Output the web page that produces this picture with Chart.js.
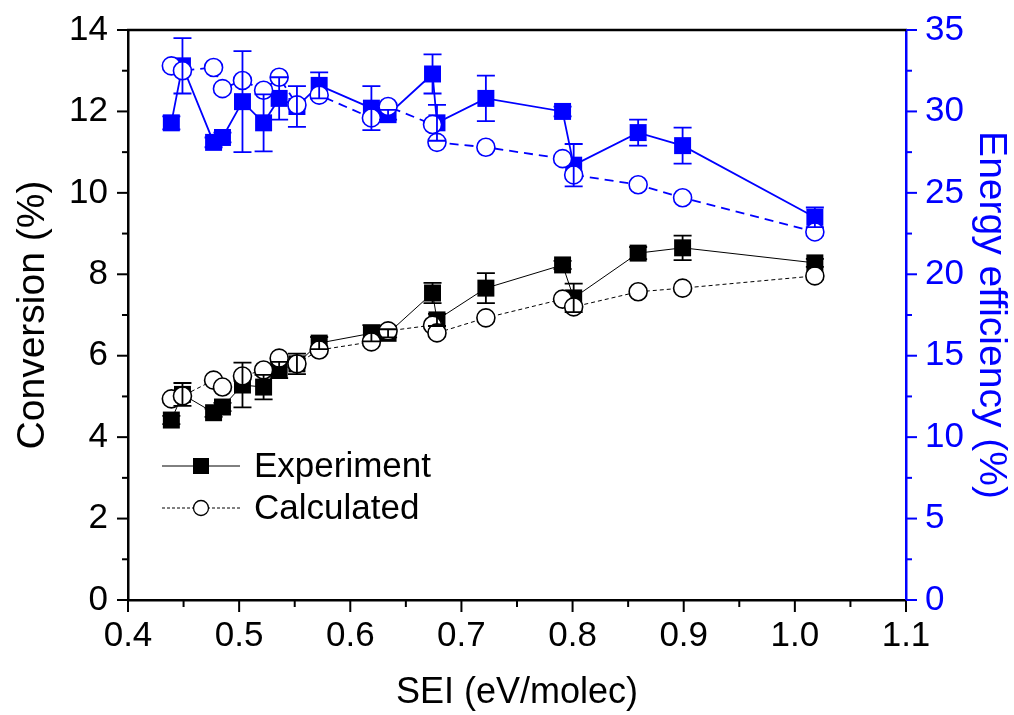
<!DOCTYPE html>
<html><head><meta charset="utf-8">
<script src="https://cdn.jsdelivr.net/npm/chart.js@4/dist/chart.umd.min.js"></script>
<style>html,body{margin:0;padding:0;background:#fff}#wrap{width:1014px;height:715px}</style>
</head><body><div id="wrap"><canvas id="c" width="1014" height="715"></canvas></div>
<script>
// ---- data ----
const sei        = [0.439,0.449,0.477,0.485,0.503,0.522,0.536,0.552,0.572,0.619,0.634,0.674,0.678,0.722,0.791,0.801,0.859,0.899,1.018];
const convExp    = [4.42,5.05,4.60,4.74,5.28,5.23,5.65,5.80,6.31,6.55,6.55,7.54,6.88,7.66,8.23,7.42,8.52,8.65,8.28];
const convExpErr = [0.10,0.28,0.10,0.10,0.55,0.30,0.20,0.25,0.15,0.20,0.10,0.25,0.15,0.37,0.10,0.35,0.15,0.30,0.10];
const convCalc   = [4.94,5.01,5.40,5.23,5.50,5.65,5.94,5.80,6.14,6.34,6.61,6.75,6.56,6.93,7.39,7.20,7.57,7.66,7.96];
const effExp     = [29.3,32.8,28.1,28.4,30.6,29.3,30.8,30.3,31.6,30.2,29.8,32.3,29.3,30.8,30.0,26.7,28.7,27.9,23.5];
const effExpErr  = [0.4,1.7,0.3,0.3,3.1,1.75,1.3,1.25,0.8,1.35,0.3,1.2,1.1,1.4,0.3,1.3,0.8,1.1,0.6];
const effCalc    = [32.8,32.5,32.7,31.4,31.9,31.3,32.1,30.4,31.0,29.6,30.3,29.2,28.1,27.8,27.1,26.1,25.5,24.7,22.6];
const legendLabels = ['Experiment','Calculated'];
const xTitle = 'SEI (eV/molec)';
const yTitle = 'Conversion (%)';
const y2Title = 'Energy efficiency (%)';

const BLUE = '#0000ff';
const FAM = "Arial, 'Liberation Sans', sans-serif";
const pts = (ys) => sei.map((x,i)=>({x:x,y:ys[i]}));

const errorBars = {
  id:'errorBars',
  afterDatasetsDraw(chart){
    const ctx = chart.ctx;
    chart.data.datasets.forEach((ds,di)=>{
      if(!ds.errors) return;
      const meta = chart.getDatasetMeta(di);
      const ys = chart.scales[ds.yAxisID];
      ctx.save();
      ctx.strokeStyle = ds.borderColor; ctx.lineWidth = 1.8;
      meta.data.forEach((el,i)=>{
        const e = ds.errors[i]; const v = ds.data[i].y;
        const x = el.x, yt = ys.getPixelForValue(v+e), yb = ys.getPixelForValue(v-e);
        ctx.beginPath();
        ctx.moveTo(x,yt); ctx.lineTo(x,yb);
        ctx.moveTo(x-9,yt); ctx.lineTo(x+9,yt);
        ctx.moveTo(x-9,yb); ctx.lineTo(x+9,yb);
        ctx.stroke();
      });
      ctx.restore();
    });
  }
};

const frame = {
  id:'frame',
  afterDraw(chart){
    const ctx = chart.ctx, a = chart.chartArea;
    const sx = chart.scales.x, sy = chart.scales.y, sy2 = chart.scales.y2;
    ctx.save();
    ctx.lineWidth = 2.5;
    ctx.strokeStyle = '#000';
    ctx.beginPath(); ctx.moveTo(a.left-1,a.top); ctx.lineTo(a.right+1,a.top); ctx.stroke();
    ctx.lineWidth = 2;
    for(let k=0;k<=14;k++){
      const v = 0.4 + k*0.05; const px = sx.getPixelForValue(v);
      const len = (k%2===0)?12:7;
      ctx.beginPath(); ctx.moveTo(px,a.bottom); ctx.lineTo(px,a.bottom+len); ctx.stroke();
    }
    for(let k=0;k<=14;k++){
      const py = sy.getPixelForValue(k); const len = (k%2===0)?11:6;
      ctx.beginPath(); ctx.moveTo(a.left,py); ctx.lineTo(a.left-len,py); ctx.stroke();
    }
    ctx.strokeStyle = BLUE;
    for(let k=0;k<=14;k++){
      const py = sy2.getPixelForValue(k*2.5); const len = (k%2===0)?11:6;
      ctx.beginPath(); ctx.moveTo(a.right,py); ctx.lineTo(a.right+len,py); ctx.stroke();
    }
    // legend
    ctx.strokeStyle = '#000'; ctx.fillStyle = '#000'; ctx.lineWidth = 1;
    const lx0 = 162, lx1 = 240, mx = 201, ly1 = 466, ly2 = 508;
    ctx.beginPath(); ctx.moveTo(lx0,ly1); ctx.lineTo(lx1,ly1); ctx.stroke();
    ctx.fillRect(mx-8,ly1-8,16,16);
    ctx.setLineDash([3,2]);
    ctx.beginPath(); ctx.moveTo(lx0,ly2); ctx.lineTo(lx1,ly2); ctx.stroke();
    ctx.setLineDash([]);
    ctx.beginPath(); ctx.arc(mx,ly2,7.5,0,Math.PI*2); ctx.fillStyle='#fff'; ctx.fill(); ctx.lineWidth=1.3; ctx.stroke();
    ctx.fillStyle = '#000';
    ctx.font = '35px ' + FAM; ctx.textBaseline = 'middle'; ctx.textAlign = 'left';
    ctx.fillText(legendLabels[0], 254, ly1+1);
    ctx.fillText(legendLabels[1], 254, ly2+1);
    ctx.restore();
  }
};

new Chart(document.getElementById('c'), {
  type:'line',
  data:{ datasets:[
    {label:'Calc eff', data:pts(effCalc), yAxisID:'y2', borderColor:BLUE, borderWidth:1.8, borderDash:[9,6],
     pointStyle:'circle', pointRadius:9, pointBorderWidth:1.6, pointBorderColor:BLUE, pointBackgroundColor:'#fff', fill:false, tension:0},
    {label:'Calc conv', data:pts(convCalc), yAxisID:'y', borderColor:'#000', borderWidth:1, borderDash:[4,3],
     pointStyle:'circle', pointRadius:9, pointBorderWidth:1.6, pointBorderColor:'#000', pointBackgroundColor:'#fff', fill:false, tension:0},
    {label:'Exp eff', data:pts(effExp), errors:effExpErr, yAxisID:'y2', borderColor:BLUE, borderWidth:1.8,
     pointStyle:'rect', pointRadius:12, pointBorderWidth:0, pointBackgroundColor:BLUE, fill:false, tension:0},
    {label:'Exp conv', data:pts(convExp), errors:convExpErr, yAxisID:'y', borderColor:'#000', borderWidth:1,
     pointStyle:'rect', pointRadius:12, pointBorderWidth:0, pointBackgroundColor:'#000', fill:false, tension:0}
  ]},
  options:{
    responsive:false, animation:false, devicePixelRatio:1,
    layout:{padding:{top:30,left:0,right:0,bottom:0}},
    plugins:{legend:{display:false}, tooltip:{enabled:false}},
    scales:{
      x:{type:'linear', position:'bottom', min:0.4, max:1.1,
         ticks:{stepSize:0.1, autoSkip:false, maxRotation:0, font:{family:FAM,size:35}, color:'#000', padding:15, callback:v=>Number(v).toFixed(1)},
         grid:{display:false, drawTicks:false}, border:{display:true,color:'#000',width:2.5},
         title:{display:true, text:xTitle, color:'#000', font:{family:FAM,size:36,lineHeight:1.2}, padding:{top:0,bottom:0}},
         afterFit:s=>{s.height=115;}},
      y:{type:'linear', position:'left', min:0, max:14,
         ticks:{stepSize:2, autoSkip:false, font:{family:FAM,size:35,lineHeight:0.5}, color:'#000', padding:20},
         grid:{display:false, drawTicks:false}, border:{display:true,color:'#000',width:2.5},
         title:{display:true, text:yTitle, color:'#000', font:{family:FAM,size:39,lineHeight:1.2}, padding:{top:10,bottom:0}},
         afterFit:s=>{s.width=128;}},
      y2:{type:'linear', position:'right', min:0, max:35,
         ticks:{stepSize:5, autoSkip:false, font:{family:FAM,size:35,lineHeight:0.5}, color:BLUE, padding:19},
         grid:{display:false, drawTicks:false}, border:{display:true,color:BLUE,width:2.5},
         title:{display:true, text:y2Title, color:BLUE, font:{family:FAM,size:39,lineHeight:1.2}, padding:{top:0,bottom:0}},
         afterFit:s=>{s.width=108;}}
    }
  },
  plugins:[errorBars, frame]
});
</script></body></html>
